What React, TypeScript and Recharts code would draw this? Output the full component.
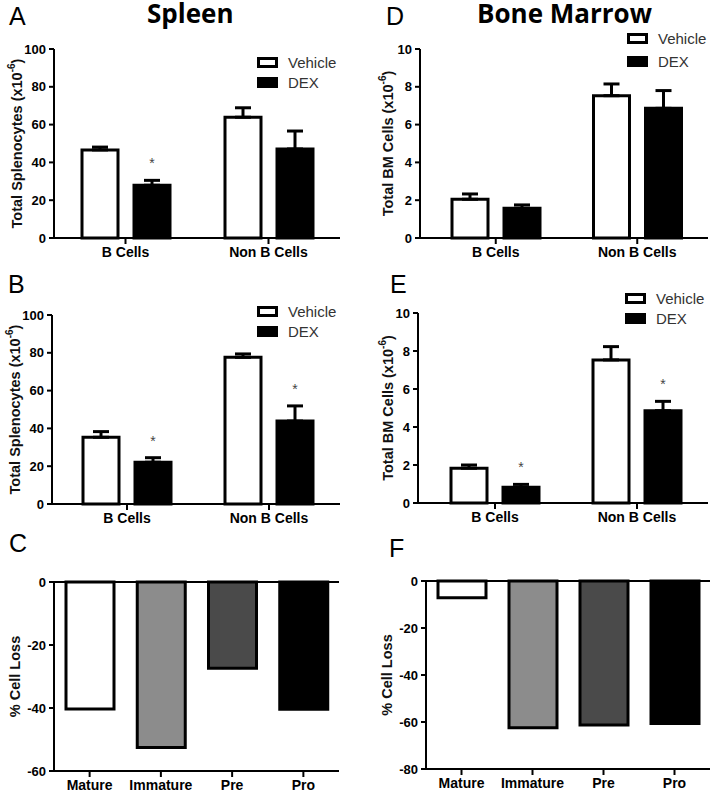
import React from 'react';
import { BarChart, Bar, XAxis, YAxis, ErrorBar, Cell, ReferenceLine } from 'recharts';

// panels A/B/D/E: two groups, vehicle vs DEX
const groups = ['B Cells', 'Non B Cells'];

const spleenTotalVehicle = [46.6, 63.9];
const spleenTotalVehicleErr = [1.5, 5.0];
const spleenTotalDex = [27.9, 47.1];
const spleenTotalDexErr = [2.6, 9.5];
const spleenTotalSig = [true, false];

const spleenB2Vehicle = [35.3, 77.6];
const spleenB2VehicleErr = [3.0, 1.8];
const spleenB2Dex = [22.1, 43.9];
const spleenB2DexErr = [2.4, 8.0];
const spleenB2Sig = [true, true];

const bmTotalVehicle = [2.05, 7.53];
const bmTotalVehicleErr = [0.28, 0.62];
const bmTotalDex = [1.57, 6.86];
const bmTotalDexErr = [0.18, 0.94];
const bmTotalSig = [false, false];

const bmE2Vehicle = [1.83, 7.53];
const bmE2VehicleErr = [0.17, 0.7];
const bmE2Dex = [0.83, 4.86];
const bmE2DexErr = [0.15, 0.49];
const bmE2Sig = [true, true];

// panels C/F: % cell loss per B cell subset
const subsets = ['Mature', 'Immature', 'Pre', 'Pro'];
const spleenLoss = [-40.3, -52.5, -27.4, -40.4];
const bmLoss = [-7.1, -62.4, -61.3, -60.6];

const countTicks = [0, 20, 40, 60, 80, 100];
const bmTicks = [0, 2, 4, 6, 8, 10];
const spleenLossTicks = [-60, -40, -20, 0];
const bmLossTicks = [-80, -60, -40, -20, 0];

const SUBSET_FILLS = ['#ffffff', '#8c8c8c', '#4a4a4a', '#000000'];
const FONT = '"Liberation Sans", Arial, sans-serif';

const axisLine = { stroke: '#000', strokeWidth: 2 };
const tickLine = { stroke: '#000', strokeWidth: 2 };
const yTick = { fill: '#000', fontSize: 13, fontWeight: 'bold', fontFamily: FONT };
const xTick = { fill: '#000', fontSize: 14, fontWeight: 'bold', fontFamily: FONT };

// rotated y label, optional "-6" superscript
function yLabel(text: string, labelX: number, sup: boolean) {
    return (props: any) => {
        const vb = props.viewBox || { y: 0, height: 0 };
        const cy = vb.y + vb.height / 2;
        return (
            <text
                x={labelX}
                y={cy}
                transform={`rotate(-90 ${labelX} ${cy})`}
                textAnchor="middle"
                dominantBaseline="central"
                fontFamily={FONT}
                fontWeight="bold"
                fontSize={14.5}
                fill="#111"
            >
                <tspan>{text}</tspan>
                {sup && <tspan dy={-6} fontSize={10}>-6</tspan>}
                {sup && <tspan dy={6}>)</tspan>}
            </text>
        );
    };
}

function GroupPanel(props: any) {
    const { left, top, width, height, margin, padLeft, veh, vehErr, dex, dexErr, sig, yMax, ticks, label, labelX } = props;
    const data = groups.map((g, i) => ({
        group: g,
        vehicle: veh[i],
        vehicleErr: [0, vehErr[i]],
        dex: dex[i],
        dexErr: [0, dexErr[i]],
    }));

    // asterisk above the DEX error bar when significant
    const star = (p: any) => {
        const i = p.index;
        if (i == null || !sig[i] || !p.value) return <g />;
        const unit = p.height / p.value;
        const errTop = p.y - dexErr[i] * unit;
        return (
            <text x={p.x + p.width / 2} y={errTop - 12} textAnchor="middle" fontSize={14} fontFamily={FONT} fill="#444">
                *
            </text>
        );
    };

    return (
        <div style={{ position: 'absolute', left, top, width, height }}>
            <BarChart width={width} height={height} data={data} margin={margin} barGap={16} barSize={36}>
                <XAxis
                    dataKey="group"
                    height={30}
                    interval={0}
                    axisLine={axisLine}
                    tickLine={tickLine}
                    tickSize={6}
                    tickMargin={3}
                    tick={xTick}
                    padding={{ left: padLeft, right: 0 }}
                />
                <YAxis
                    width={44}
                    domain={[0, yMax]}
                    ticks={ticks}
                    interval={0}
                    axisLine={axisLine}
                    tickLine={tickLine}
                    tickSize={5}
                    tickMargin={3}
                    tick={yTick}
                    label={{ content: yLabel(label, labelX, true) }}
                />
                <Bar dataKey="vehicle" fill="#fff" stroke="#000" strokeWidth={3} isAnimationActive={false}>
                    <ErrorBar dataKey="vehicleErr" direction="y" width={8} stroke="#000" strokeWidth={3} isAnimationActive={false} />
                </Bar>
                <Bar dataKey="dex" fill="#000" stroke="#000" strokeWidth={3} isAnimationActive={false} label={star}>
                    <ErrorBar dataKey="dexErr" direction="y" width={8} stroke="#000" strokeWidth={3} isAnimationActive={false} />
                </Bar>
            </BarChart>
        </div>
    );
}

function LossPanel(props: any) {
    const { left, top, width, height, margin, values, yMin, ticks, labelX } = props;
    const data = subsets.map((s, i) => ({ subset: s, loss: values[i] }));
    return (
        <div style={{ position: 'absolute', left, top, width, height }}>
            <BarChart width={width} height={height} data={data} margin={margin} barSize={48}>
                <XAxis
                    dataKey="subset"
                    height={30}
                    interval={0}
                    axisLine={axisLine}
                    tickLine={tickLine}
                    tickSize={6}
                    tickMargin={3}
                    tick={xTick}
                />
                <YAxis
                    width={44}
                    domain={[yMin, 0]}
                    ticks={ticks}
                    interval={0}
                    axisLine={axisLine}
                    tickLine={tickLine}
                    tickSize={5}
                    tickMargin={3}
                    tick={yTick}
                    label={{ content: yLabel('% Cell Loss', labelX, false) }}
                />
                <ReferenceLine y={0} stroke="#000" strokeWidth={2} />
                <Bar dataKey="loss" stroke="#000" strokeWidth={3} isAnimationActive={false}>
                    {data.map((d, i) => (
                        <Cell key={`cell-${d.subset}`} fill={SUBSET_FILLS[i]} />
                    ))}
                </Bar>
            </BarChart>
        </div>
    );
}

function Legend2({ x, y, gap }: { x: number; y: number; gap: number }) {
    const rows = [
        { name: 'Vehicle', fill: '#fff' },
        { name: 'DEX', fill: '#000' },
    ];
    return (
        <>
            {rows.map((r, i) => (
                <React.Fragment key={r.name}>
                    <div
                        style={{
                            position: 'absolute',
                            left: x,
                            top: y + i * gap,
                            width: 21,
                            height: 11,
                            boxSizing: 'border-box',
                            border: '3px solid #000',
                            background: r.fill,
                        }}
                    />
                    <div
                        style={{
                            position: 'absolute',
                            left: x + 31,
                            top: y + i * gap - 2,
                            fontFamily: FONT,
                            fontSize: 15,
                            lineHeight: '15px',
                            color: '#333',
                            whiteSpace: 'nowrap',
                        }}
                    >
                        {r.name}
                    </div>
                </React.Fragment>
            ))}
        </>
    );
}

const letterStyle: React.CSSProperties = {
    position: 'absolute',
    fontFamily: FONT,
    fontSize: 25,
    lineHeight: '25px',
    color: '#000',
};

const titleStyle: React.CSSProperties = {
    position: 'absolute',
    fontFamily: '"Open Sans", sans-serif',
    fontWeight: 'bold',
    fontSize: 26,
    lineHeight: '26px',
    color: '#000',
    whiteSpace: 'nowrap',
};

export default function App() {
    return (
        <div style={{ position: 'absolute', left: 0, top: 0, width: 711, height: 791, overflow: 'hidden', background: '#fff' }}>
            <div style={{ ...titleStyle, left: 147, top: 0 }}>Spleen</div>
            <div style={{ ...titleStyle, left: 477, top: 0 }}>Bone Marrow</div>

            <div style={{ ...letterStyle, left: 9, top: 4 }}>A</div>
            <div style={{ ...letterStyle, left: 386, top: 4 }}>D</div>
            <div style={{ ...letterStyle, left: 8, top: 272 }}>B</div>
            <div style={{ ...letterStyle, left: 390, top: 272 }}>E</div>
            <div style={{ ...letterStyle, left: 9, top: 531 }}>C</div>
            <div style={{ ...letterStyle, left: 389, top: 536 }}>F</div>

            <GroupPanel
                left={0} top={30} width={355} height={240}
                margin={{ top: 19, right: 15, bottom: 2, left: 10 }}
                padLeft={0}
                veh={spleenTotalVehicle} vehErr={spleenTotalVehicleErr}
                dex={spleenTotalDex} dexErr={spleenTotalDexErr} sig={spleenTotalSig}
                yMax={100} ticks={countTicks}
                label="Total Splenocytes (x10" labelX={17}
            />
            <Legend2 x={257} y={57} gap={20} />

            <GroupPanel
                left={355} top={30} width={356} height={240}
                margin={{ top: 19, right: 3, bottom: 2, left: 21 }}
                padLeft={5}
                veh={bmTotalVehicle} vehErr={bmTotalVehicleErr}
                dex={bmTotalDex} dexErr={bmTotalDexErr} sig={bmTotalSig}
                yMax={10} ticks={bmTicks}
                label="Total BM Cells (x10" labelX={33}
            />
            <Legend2 x={627} y={33} gap={23} />

            <GroupPanel
                left={0} top={290} width={355} height={250}
                margin={{ top: 25, right: 15, bottom: 6, left: 8 }}
                padLeft={4}
                veh={spleenB2Vehicle} vehErr={spleenB2VehicleErr}
                dex={spleenB2Dex} dexErr={spleenB2DexErr} sig={spleenB2Sig}
                yMax={100} ticks={countTicks}
                label="Total Splenocytes (x10" labelX={15}
            />
            <Legend2 x={257} y={306} gap={20} />

            <GroupPanel
                left={355} top={290} width={356} height={250}
                margin={{ top: 23, right: 3, bottom: 7, left: 19 }}
                padLeft={6}
                veh={bmE2Vehicle} vehErr={bmE2VehicleErr}
                dex={bmE2Dex} dexErr={bmE2DexErr} sig={bmE2Sig}
                yMax={10} ticks={bmTicks}
                label="Total BM Cells (x10" labelX={33}
            />
            <Legend2 x={625} y={293} gap={20} />

            <LossPanel
                left={0} top={560} width={355} height={251}
                margin={{ top: 22, right: 16, bottom: 10, left: 10 }}
                values={spleenLoss} yMin={-60} ticks={spleenLossTicks} labelX={15}
            />
            <LossPanel
                left={355} top={560} width={356} height={251}
                margin={{ top: 21, right: 1, bottom: 12, left: 27 }}
                values={bmLoss} yMin={-80} ticks={bmLossTicks} labelX={32}
            />
        </div>
    );
}
